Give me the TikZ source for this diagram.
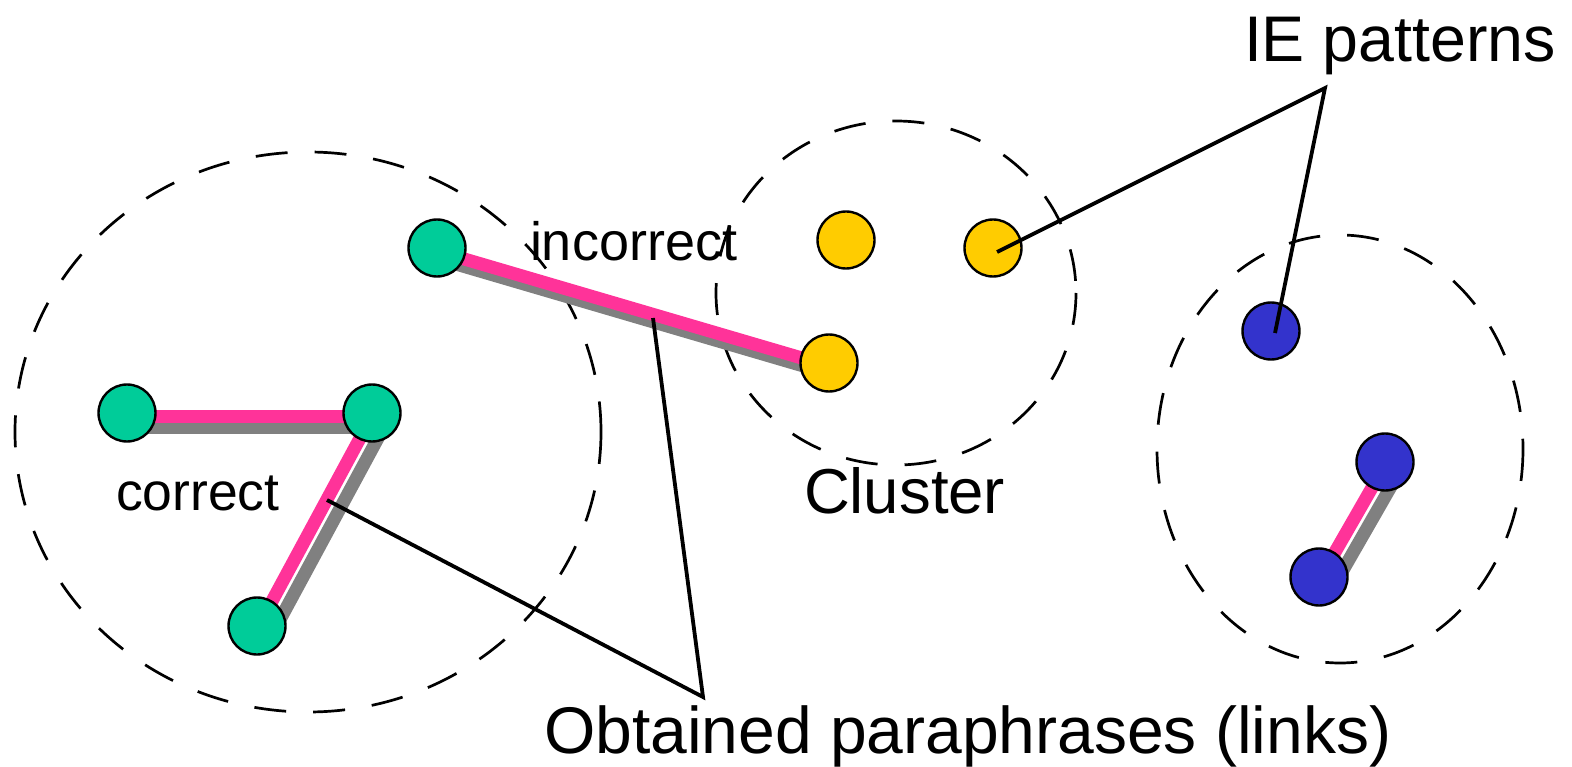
\documentclass[tikz,border=0pt]{standalone}
\usepackage{fontspec}
\setmainfont{Liberation Sans}
\definecolor{cgreen}{HTML}{00CC99}
\definecolor{cyellow}{HTML}{FFCC00}
\definecolor{cblue}{HTML}{3333CC}
\definecolor{cpink}{HTML}{FF3399}
\definecolor{cgray}{HTML}{808080}
\tikzset{
  dot/.style={circle, draw=black, line width=2.4pt, minimum size=57pt, inner sep=0pt},
  gdot/.style={dot, fill=cgreen},
  ydot/.style={dot, fill=cyellow},
  bdot/.style={dot, fill=cblue},
  pinklink/.style={draw=cpink, line width=13pt},
  graylink/.style={draw=cgray, line width=13pt},
  clusterline/.style={draw=black, line width=2.7pt, dash pattern=on 32pt off 27pt},
  callout/.style={draw=black, line width=3.8pt},
  lbl/.style={anchor=base west, inner sep=0pt, outer sep=0pt}
}
\begin{document}
\begin{tikzpicture}[x=1pt,y=-1pt]
\useasboundingbox (0,0) rectangle (1572,767);
% clusters
\draw[clusterline] (308,432) ellipse [x radius=293, y radius=280];
\draw[clusterline] (896,293) ellipse [x radius=180, y radius=172];
\draw[clusterline] (1340,449) ellipse [x radius=183, y radius=214];
% node positions
\coordinate (pA) at (437,248);
\coordinate (pB) at (127,413);
\coordinate (pC) at (372,413);
\coordinate (pD) at (257,626);
\coordinate (pY1) at (846,240);
\coordinate (pY2) at (993,248);
\coordinate (pY3) at (829,363);
\coordinate (pU1) at (1271,331);
\coordinate (pU2) at (1385,462);
\coordinate (pU3) at (1319,577);
% links: gray shadow then pink
\draw[graylink] ([shift={(12,14)}]pB) -- ([shift={(12,14)}]pC);
\draw[graylink] ([shift={(12,14)}]pC) -- ([shift={(12,14)}]pD);
\draw[graylink] ([shift={(12,14)}]pA) -- ([shift={(12,14)}]pY3);
\draw[graylink] ([shift={(12,14)}]pU2) -- ([shift={(12,14)}]pU3);
\draw[pinklink] ([shift={(0,3)}]pB) -- ([shift={(0,3)}]pC);
\draw[pinklink] ([shift={(0,3)}]pC) -- ([shift={(0,3)}]pD);
\draw[pinklink] ([shift={(0,3)}]pA) -- ([shift={(0,3)}]pY3);
\draw[pinklink] ([shift={(0,3)}]pU2) -- ([shift={(0,3)}]pU3);
% circles
\node[gdot] (A) at (pA) {};
\node[gdot] (B) at (pB) {};
\node[gdot] (C) at (pC) {};
\node[gdot] (D) at (pD) {};
\node[ydot] (Y1) at (pY1) {};
\node[ydot] (Y2) at (pY2) {};
\node[ydot] (Y3) at (pY3) {};
\node[bdot] (U1) at (pU1) {};
\node[bdot] (U2) at (pU2) {};
\node[bdot] (U3) at (pU3) {};
% labels
\node[lbl] (ie) at (1244,62) {\fontsize{64.5}{64.5}\selectfont IE patterns};
\node[lbl] (cl) at (804,513) {\fontsize{63.5}{63.5}\selectfont Cluster};
\node[lbl] (ob) at (544,753) {\fontsize{66}{66}\selectfont Obtained paraphrases (links)};
\node[lbl] (inc) at (530,261) {\fontsize{54}{54}\selectfont incorrect};
\node[lbl] (cor) at (116,510) {\fontsize{53.5}{53.5}\selectfont correct};
% callouts
\coordinate (ieapex) at (1325,88);
\coordinate (ieY) at (997,252);
\coordinate (ieU) at (1275,333);
\coordinate (obapex) at (703,697);
\coordinate (obI) at (653,318);
\coordinate (obC) at (327,500);
\draw[callout] (ieY) -- (ieapex) -- (ieU);
\draw[callout] (obI) -- (obapex) -- (obC);
\end{tikzpicture}
\end{document}
